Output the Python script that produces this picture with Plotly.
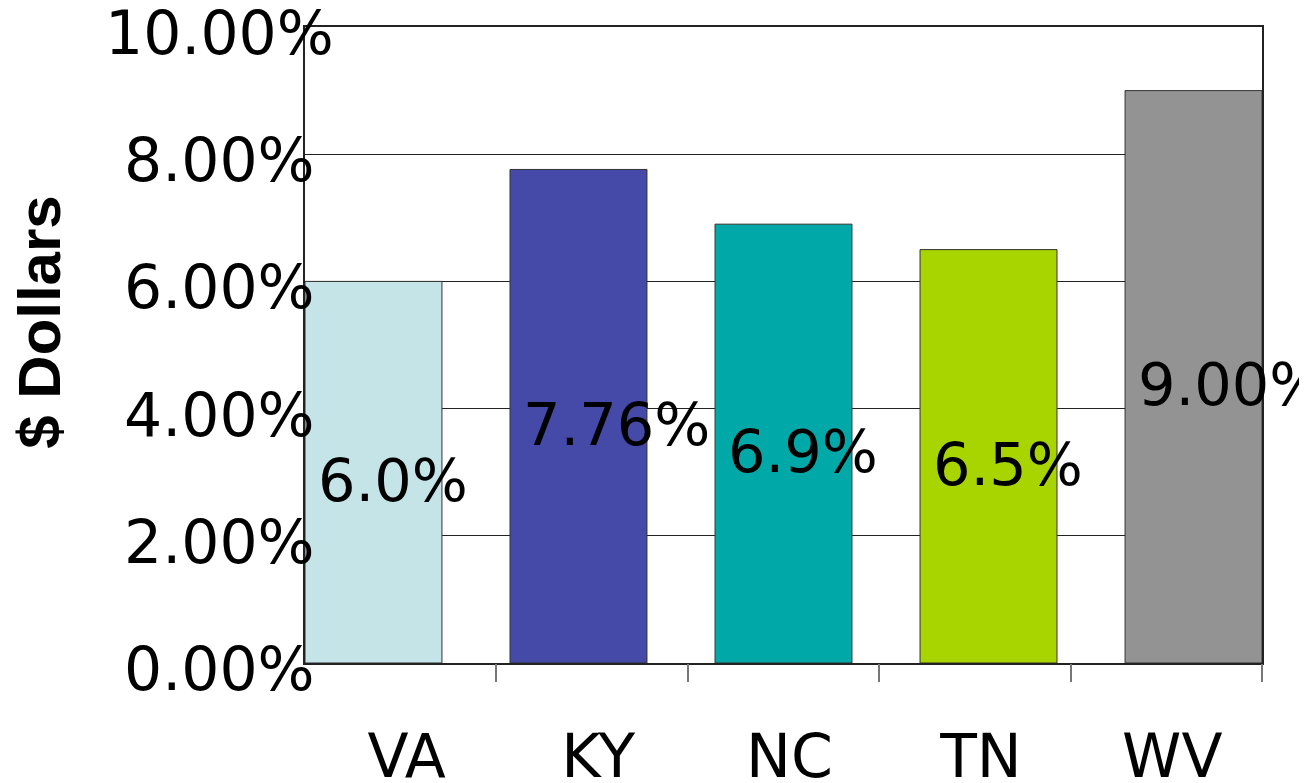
import plotly.graph_objects as go

states = ["VA", "KY", "NC", "TN", "WV"]
rates = [6.0, 7.76, 6.9, 6.5, 9.0]
rate_labels = ["6.0%", "7.76%", "6.9%", "6.5%", "9.00%"]
colors = ["#C5E4E8", "#4549A8", "#00A8A8", "#A8D400", "#939393"]
y_ticks = [0, 2, 4, 6, 8, 10]
y_tick_labels = ["0.00%", "2.00%", "4.00%", "6.00%", "8.00%", "10.00%"]

FONT = "DejaVu Sans"
positions = list(range(len(states)))
bar_w = 0.668

fig = go.Figure()
fig.add_trace(go.Bar(
    x=positions, y=rates, width=bar_w,
    marker=dict(color=colors, line=dict(color="#333333", width=1)),
    xaxis="x", yaxis="y", hoverinfo="skip", showlegend=False,
))

# value labels on the bars
for i, (v, t) in enumerate(zip(rates, rate_labels)):
    fig.add_annotation(
        x=positions[i] - bar_w / 2, y=v / 2, xref="x", yref="y",
        text=t, showarrow=False, xanchor="left", yanchor="middle",
        xshift=11, yshift=-8,
        font=dict(family=FONT, size=59, color="#000000"),
    )

# y tick labels (centred, overlapping the axis like the original)
for tv, tt in zip(y_ticks, y_tick_labels):
    fig.add_annotation(
        x=0, y=tv, xref="paper", yref="y", text=tt, showarrow=False,
        xanchor="center", yanchor="middle", xshift=-86, yshift=-6,
        font=dict(family=FONT, size=60, color="#000000"),
    )

fig.add_annotation(
    x=0.0, y=0.535, xref="paper", yref="paper", xanchor="center", yanchor="middle",
    xshift=-265, text="$ Dollars", textangle=-90, showarrow=False,
    font=dict(family="Liberation Sans", size=60, color="#000000", weight="bold"),
)

fig.update_layout(
    width=1299, height=775,
    margin=dict(l=297, r=45, t=19, b=120, autoexpand=False),
    paper_bgcolor="white", plot_bgcolor="white",
    xaxis=dict(
        range=[-bar_w / 2, positions[-1] + bar_w / 2], automargin=False,
        showticklabels=False, ticks="", showgrid=False, zeroline=False,
        showline=True, linecolor="#222222", linewidth=1.5, mirror=True,
    ),
    xaxis2=dict(
        overlaying="x", side="bottom", range=[-0.5, len(states) - 0.5],
        automargin=False,
        tickmode="array", tickvals=positions, ticktext=states, ticks="",
        showgrid=False, zeroline=False, showline=False,
        tickfont=dict(family=FONT, size=60, color="#000000"),
        ticklabelshift=6, ticklabelstandoff=53,
        minor=dict(tickmode="array", tickvals=[p + 0.5 for p in positions],
                   ticks="outside", ticklen=18, tickcolor="#777777", tickwidth=1.5,
                   showgrid=False),
    ),
    yaxis=dict(
        range=[0, 10], tickmode="array", tickvals=y_ticks,
        automargin=False, showticklabels=False,
        showgrid=True, gridcolor="#222222", gridwidth=1,
        zeroline=False, showline=True, linecolor="#222222", linewidth=1.5, mirror=True,
        ticks="",
    ),
)

# invisible trace so xaxis2 is drawn
fig.add_trace(go.Scatter(x=[positions[0]], y=[None], xaxis="x2", yaxis="y",
                         showlegend=False, hoverinfo="skip"))

fig.write_html("out.html")
